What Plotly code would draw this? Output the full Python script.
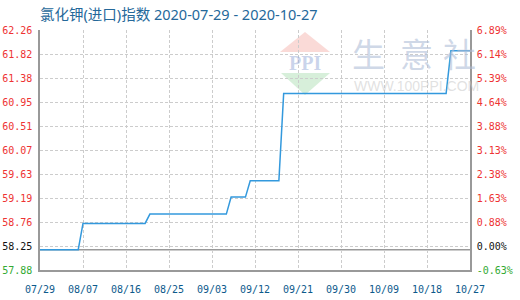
import numpy as np
import plotly.graph_objects as go

# Index values at the dates where the series changes level
dates = ["2020-07-29", "2020-08-06", "2020-08-07", "2020-08-20", "2020-08-21",
         "2020-09-06", "2020-09-07", "2020-09-10", "2020-09-11", "2020-09-17",
         "2020-09-18", "2020-10-22", "2020-10-23", "2020-10-27"]
values = [58.25, 58.25, 58.73, 58.73, 58.90,
          58.90, 59.21, 59.21, 59.51, 59.51,
          61.10, 61.10, 61.88, 61.88]
base_value = 58.25

x_ticks = ["2020-07-29", "2020-08-07", "2020-08-16", "2020-08-25", "2020-09-03",
           "2020-09-12", "2020-09-21", "2020-09-30", "2020-10-09", "2020-10-18",
           "2020-10-27"]
x_tick_labels = ["07/29", "08/07", "08/16", "08/25", "09/03", "09/12",
                 "09/21", "09/30", "10/09", "10/18", "10/27"]
left_tick_labels = ["57.88", "58.25", "58.76", "59.19", "59.63", "60.07",
                    "60.51", "60.95", "61.38", "61.82", "62.26"]
right_tick_labels = ["-0.63%", "0.00%", "0.88%", "1.63%", "2.38%", "3.13%",
                     "3.88%", "4.64%", "5.39%", "6.14%", "6.89%"]
y_min, y_max = 57.88, 62.26

RED, GREEN, BLACK = "#ee3333", "#33aa33", "#111111"
label_colors = [GREEN, BLACK] + [RED] * 9


def colored(texts):
    return [f'<span style="color:{c}">{t}</span>' for t, c in zip(texts, label_colors)]


tick_vals = list(np.linspace(y_min, y_max, len(left_tick_labels)))
W, H = 520, 300
L, R, T, B = 40, 50, 30, 30
grid = "#cccccc"
axis_col = "#999999"
mono = "DejaVu Sans Mono"

fig = go.Figure()
fig.add_trace(go.Scatter(x=dates, y=values, mode="lines",
                         line=dict(color="#3399dd", width=1.5),
                         hoverinfo="skip", showlegend=False))
fig.add_trace(go.Scatter(x=dates, y=values, mode="lines", yaxis="y2",
                         line=dict(width=0), opacity=0,
                         hoverinfo="skip", showlegend=False))

# Baseline at the first value
fig.add_shape(type="line", xref="paper", x0=0, x1=1, yref="y",
              y0=base_value, y1=base_value, line=dict(color=axis_col, width=1.5),
              layer="below")


# Watermark helpers: pixel -> paper coordinates
def px(xp):
    return (xp - L) / (W - L - R)


def py(yp):
    return 1 - (yp - T) / (H - T - B)


def tri(points):
    return "M " + " L ".join(f"{px(a)},{py(b)}" for a, b in points) + " Z"


def mark(text, cx, cy, font):
    fig.add_annotation(x=px(cx), y=py(cy), xref="paper", yref="paper",
                       xanchor="center", yanchor="middle",
                       text=text, showarrow=False, font=font)


fig.add_shape(type="path", xref="paper", yref="paper", layer="below",
              path=tri([(305, 32), (330, 52), (280, 52)]),
              fillcolor="rgba(240,150,140,0.35)", line=dict(width=0))
fig.add_shape(type="path", xref="paper", yref="paper", layer="below",
              path=tri([(281, 73), (330, 73), (305, 95)]),
              fillcolor="rgba(140,210,150,0.35)", line=dict(width=0))
mark("<b>PPI</b>", 305, 63,
     dict(family="Liberation Serif", size=20, color="rgba(150,170,215,0.5)"))
for ch, cx in zip("生意社", [368, 416, 459]):
    mark(ch, cx, 53, dict(family="Noto Sans CJK SC", size=33, color="rgba(175,190,215,0.6)"))
mark("WWW.100PPI.COM", 416, 86,
     dict(family="Liberation Sans", size=14, color="rgba(200,200,200,0.55)"))

fig.update_layout(
    width=W, height=H,
    margin=dict(l=L, r=R, t=T, b=B),
    paper_bgcolor="white", plot_bgcolor="white",
    title=dict(text="氯化钾(进口)指数 2020-07-29 - 2020-10-27",
               x=L / W, xanchor="left", y=1 - 15 / H, yanchor="middle",
               font=dict(family="Noto Sans, Noto Sans CJK SC", size=14.5, color="#25689a")),
    xaxis=dict(type="date", range=[x_ticks[0], x_ticks[-1]],
               tickvals=x_ticks, ticktext=x_tick_labels, automargin=False,
               tickfont=dict(family=mono, size=10, color="#0d5a8c"),
               showgrid=True, gridcolor=grid, griddash="3px,2px", gridwidth=1,
               showline=True, linecolor=axis_col, linewidth=1.5,
               ticks="", ticklabelstandoff=9, zeroline=False),
    yaxis=dict(range=[y_min, y_max], tickvals=tick_vals, automargin=False,
               ticktext=colored(left_tick_labels),
               tickfont=dict(family=mono, size=10),
               showgrid=True, gridcolor=grid, griddash="3px,2px", gridwidth=1,
               showline=True, linecolor=axis_col, linewidth=1.5,
               ticks="", ticklabelstandoff=4, zeroline=False),
    yaxis2=dict(range=[y_min, y_max], tickvals=tick_vals, automargin=False,
                ticktext=colored(right_tick_labels),
                tickfont=dict(family=mono, size=10),
                overlaying="y", side="right", showgrid=False,
                showline=True, linecolor=axis_col, linewidth=1.5,
                ticks="", ticklabelstandoff=3, zeroline=False),
)

fig.write_html("out.html")
